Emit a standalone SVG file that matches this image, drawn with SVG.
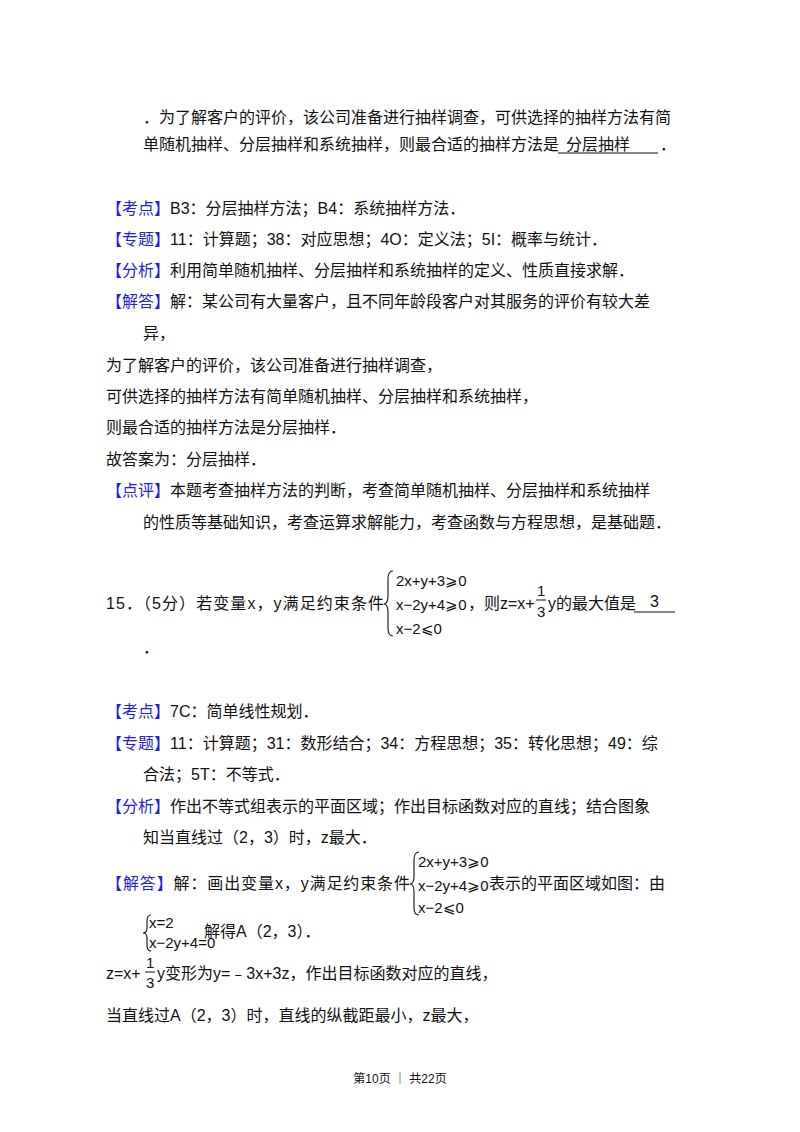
<svg xmlns="http://www.w3.org/2000/svg" width="800" height="1132" viewBox="0 0 800 1132">
<style>
text{font-family:"Liberation Sans","Noto Sans CJK SC",sans-serif;font-size:16px;fill:#111}
.b{fill:#1f1fe0}
.m{font-size:15px;font-family:"Liberation Sans Narrow","Liberation Sans",sans-serif}
.f{font-size:12px}
.br{fill:none;stroke:#222;stroke-width:1.2}
.u{stroke:#111;stroke-width:1}
</style>
<rect width="800" height="1132" fill="#fff"/>
<text x="143" y="123">．为了解客户的评价，该公司准备进行抽样调查，可供选择的抽样方法有简</text>
<text x="143" y="150">单随机抽样、分层抽样和系统抽样，则最合适的抽样方法是<tspan x="566">分层抽样</tspan><tspan x="660">．</tspan></text>
<line class="u" x1="558" y1="153" x2="658" y2="153"/>

<text x="106" y="214"><tspan class="b">【考点】</tspan>B3：分层抽样方法；B4：系统抽样方法．</text>
<text x="106" y="245"><tspan class="b">【专题】</tspan>11：计算题；38：对应思想；4O：定义法；5I：概率与统计．</text>
<text x="106" y="276"><tspan class="b">【分析】</tspan>利用简单随机抽样、分层抽样和系统抽样的定义、性质直接求解．</text>
<text x="106" y="307"><tspan class="b">【解答】</tspan>解：某公司有大量客户，且不同年龄段客户对其服务的评价有较大差</text>
<text x="143" y="339">异，</text>
<text x="106" y="371">为了解客户的评价，该公司准备进行抽样调查，</text>
<text x="106" y="402">可供选择的抽样方法有简单随机抽样、分层抽样和系统抽样，</text>
<text x="106" y="433">则最合适的抽样方法是分层抽样．</text>
<text x="106" y="465">故答案为：分层抽样．</text>
<text x="106" y="496"><tspan class="b">【点评】</tspan>本题考查抽样方法的判断，考查简单随机抽样、分层抽样和系统抽样</text>
<text x="143" y="528">的性质等基础知识，考查运算求解能力，考查函数与方程思想，是基础题．</text>

<text x="106" y="609" textLength="278" lengthAdjust="spacing">15．（5分）若变量x，y满足约束条件</text>
<path class="br" d="M393 571 Q388 571 388 579 L388 595 Q388 604 384 604 Q388 604 388 613 L388 628 Q388 636 393 636"/>
<text class="m" x="396" y="586">2x+y+3⩾0</text>
<text class="m" x="396" y="610">x−2y+4⩾0</text>
<text class="m" x="396" y="634">x−2⩽0</text>
<text x="468" y="609">，则z=x+</text>
<text class="m" x="537" y="596">1</text>
<line class="u" x1="536" y1="600" x2="546" y2="600"/>
<text class="m" x="537" y="617">3</text>
<text x="548" y="609">y的最大值是</text>
<text x="650" y="607">3</text>
<line class="u" x1="634" y1="612" x2="675" y2="612"/>
<text x="143" y="653">．</text>

<text x="106" y="717"><tspan class="b">【考点】</tspan>7C：简单线性规划．</text>
<text x="106" y="749"><tspan class="b">【专题】</tspan>11：计算题；31：数形结合；34：方程思想；35：转化思想；49：综</text>
<text x="143" y="780">合法；5T：不等式．</text>
<text x="106" y="812"><tspan class="b">【分析】</tspan>作出不等式组表示的平面区域；作出目标函数对应的直线；结合图象</text>
<text x="143" y="843">知当直线过（2，3）时，z最大．</text>

<text x="106" y="889" textLength="304" lengthAdjust="spacing"><tspan class="b">【解答】</tspan>解：画出变量x，y满足约束条件</text>
<path class="br" d="M419 852 Q414 852 414 860 L414 876 Q414 884 410 884 Q414 884 414 892 L414 908 Q414 915 419 915"/>
<text class="m" x="418" y="867">2x+y+3⩾0</text>
<text class="m" x="418" y="891">x−2y+4⩾0</text>
<text class="m" x="418" y="913">x−2⩽0</text>
<text x="489" y="889">表示的平面区域如图：由</text>
<path class="br" d="M151 915 Q147 915 147 921 L147 928 Q147 933 143 933 Q147 933 147 938 L147 945 Q147 951 151 951"/>
<text class="m" x="149" y="928">x=2</text>
<text class="m" x="149" y="948">x−2y+4=0</text>
<text x="204" y="937">解得A（2，3）．</text>

<text x="106" y="979">z=x+</text>
<text class="m" x="146" y="968">1</text>
<line class="u" x1="145" y1="972" x2="155" y2="972"/>
<text class="m" x="146" y="988">3</text>
<text x="157" y="979">y变形为y=﹣3x+3z，作出目标函数对应的直线，</text>
<text x="106" y="1021">当直线过A（2，3）时，直线的纵截距最小，z最大，</text>

<text class="f" x="400" y="1083" text-anchor="middle">第10页 ｜ 共22页</text>
</svg>
